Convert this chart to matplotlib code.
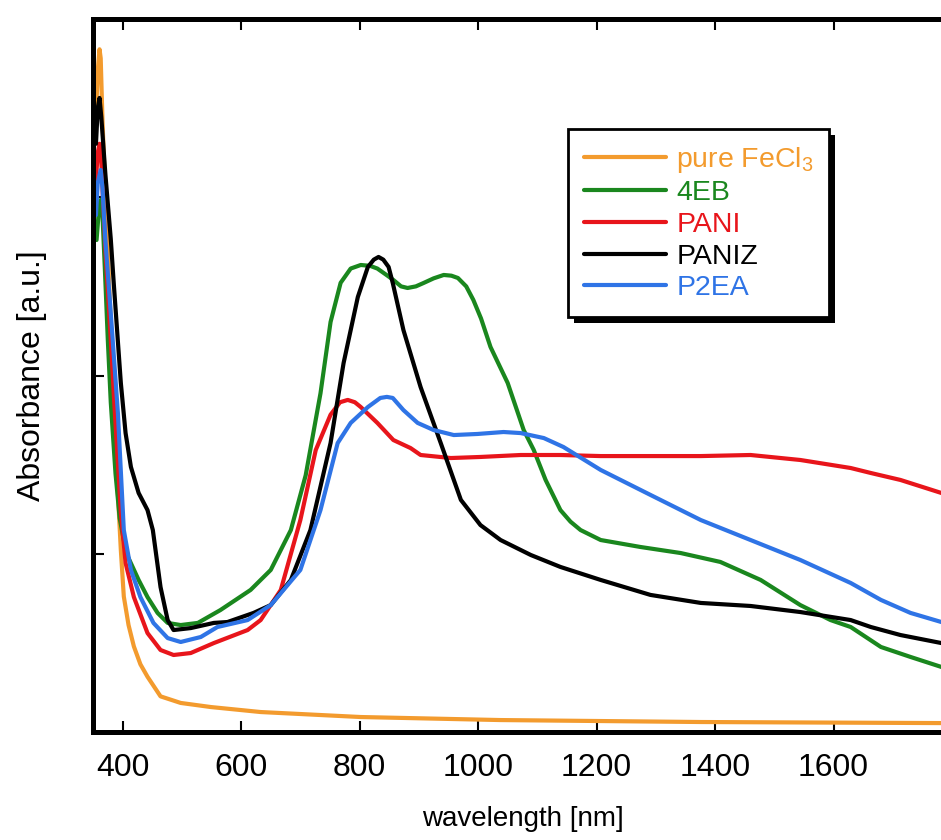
import matplotlib
matplotlib.use('Agg')
import matplotlib.pyplot as plt
from matplotlib.patches import Rectangle

plt.rcParams['font.family'] = ['Liberation Sans', 'DejaVu Sans']
plt.rcParams['mathtext.default'] = 'regular'

# wavelength [nm] / absorbance [a.u.]
wl_fecl3 = [355, 358, 361, 363, 366, 371, 380, 388, 392, 397, 402, 410, 419, 430, 442,
            464, 498, 549, 633, 802, 1038, 1376, 1782, 1800]
ab_fecl3 = [3.45, 3.71, 3.83, 3.78, 3.43, 3.00, 2.30, 1.62, 1.34, 1.02, 0.76, 0.60, 0.48, 0.38, 0.31,
            0.20, 0.163, 0.14, 0.112, 0.084, 0.067, 0.056, 0.05, 0.05]

wl_4eb = [356, 360, 363, 366, 370, 375, 380, 388, 395, 402, 408, 427, 442, 459, 476, 498, 527,
          565, 616, 650, 684, 709, 734, 751, 768, 785, 802, 818, 830, 845, 857, 870, 881, 895,
          908, 925, 942, 955, 966, 980, 992, 1005, 1021, 1050, 1077, 1094, 1114, 1139, 1156,
          1173, 1207, 1274, 1342, 1409, 1477, 1544, 1595, 1629, 1680, 1730, 1782, 1800]
ab_4eb = [2.76, 2.93, 2.985, 2.90, 2.60, 2.20, 1.85, 1.45, 1.20, 1.077, 0.99, 0.853, 0.757, 0.668,
          0.612, 0.600, 0.612, 0.684, 0.797, 0.909, 1.133, 1.44, 1.90, 2.30, 2.52, 2.60, 2.62,
          2.615, 2.60, 2.565, 2.536, 2.50, 2.491, 2.50, 2.519, 2.545, 2.564, 2.560, 2.547,
          2.50, 2.424, 2.32, 2.160, 1.958, 1.694, 1.582, 1.414, 1.245, 1.18, 1.133, 1.077,
          1.038, 1.004, 0.954, 0.853, 0.712, 0.628, 0.589, 0.477, 0.421, 0.365, 0.35]

wl_pani = [355, 358, 361, 364, 371, 380, 385, 397, 405, 419, 442, 464, 486, 515, 554, 611, 633,
           667, 700, 726, 751, 767, 780, 792, 802, 830, 857, 886, 903, 954, 1004, 1072, 1139,
           1207, 1291, 1376, 1460, 1544, 1629, 1663, 1713, 1782, 1800]
ab_pani = [3.10, 3.25, 3.30, 3.20, 2.70, 2.20, 1.90, 1.229, 0.948, 0.757, 0.555, 0.46, 0.432,
           0.443, 0.499, 0.572, 0.628, 0.797, 1.189, 1.582, 1.78, 1.85, 1.863, 1.85, 1.823,
           1.734, 1.638, 1.593, 1.554, 1.537, 1.543, 1.554, 1.554, 1.548, 1.548, 1.548, 1.554,
           1.526, 1.481, 1.453, 1.414, 1.341, 1.32]

wl_paniz = [355, 358, 361, 364, 371, 380, 385, 397, 405, 414, 427, 442, 451, 464, 476, 486, 515,
            554, 577, 621, 650, 684, 717, 751, 773, 797, 814, 824, 832, 840, 849, 856, 874, 903,
            937, 971, 1004, 1038, 1089, 1139, 1207, 1291, 1376, 1460, 1544, 1629, 1663, 1713,
            1782, 1800]
ab_paniz = [3.30, 3.50, 3.557, 3.45, 3.125, 2.766, 2.519, 1.958, 1.677, 1.487, 1.341, 1.245,
            1.133, 0.813, 0.628, 0.572, 0.583, 0.612, 0.617, 0.668, 0.712, 0.853, 1.133, 1.621,
            2.070, 2.440, 2.609, 2.65, 2.665, 2.65, 2.609, 2.519, 2.255, 1.935, 1.621, 1.302,
            1.161, 1.077, 0.993, 0.926, 0.853, 0.769, 0.724, 0.707, 0.673, 0.628, 0.589, 0.544,
            0.499, 0.49]

wl_p2ea = [355, 358, 363, 366, 371, 380, 392, 402, 414, 430, 452, 476, 498, 532, 560, 611, 650,
           700, 734, 763, 785, 814, 835, 846, 856, 874, 898, 925, 959, 999, 1043, 1072, 1111,
           1144, 1207, 1291, 1376, 1460, 1544, 1629, 1680, 1730, 1782, 1800]
ab_p2ea = [2.90, 3.08, 3.153, 3.05, 2.75, 2.35, 1.790, 1.133, 0.909, 0.757, 0.612, 0.527, 0.505,
           0.533, 0.589, 0.628, 0.712, 0.909, 1.245, 1.621, 1.734, 1.823, 1.874, 1.88, 1.874,
           1.806, 1.734, 1.694, 1.666, 1.672, 1.683, 1.677, 1.649, 1.599, 1.470, 1.330, 1.189,
           1.077, 0.965, 0.836, 0.741, 0.668, 0.617, 0.60]

xticks = [400, 600, 800, 1000, 1200, 1400, 1600, 1800]
xlabels = ['400', '600', '800', '1000', '1200', '1400', '1600', '']

W, H = 941, 840
fig = plt.figure(figsize=(W / 100, H / 100), dpi=100)
ax = fig.add_axes([93 / W, 1 - 732 / H, (952 - 93) / W, (732 - 19) / H])

kw = dict(lw=3, solid_joinstyle='round', solid_capstyle='round')
ax.plot(wl_fecl3, ab_fecl3, color='#F39B2E', label='pure FeCl$_3$', **kw)
ax.plot(wl_4eb, ab_4eb, color='#1A871E', label='4EB', **kw)
ax.plot(wl_pani, ab_pani, color='#E8151B', label='PANI', **kw)
ax.plot(wl_paniz, ab_paniz, color='black', label='PANIZ', **kw)
ax.plot(wl_p2ea, ab_p2ea, color='#2F74E6', label='P2EA', **kw)

ax.set_xlim(350, 1800)
ax.set_ylim(0, 4)
ax.set_xticks(xticks)
ax.set_xticklabels(xlabels)
ax.set_yticks([1, 2, 3])
ax.set_yticklabels([])
ax.tick_params(direction='in', length=8, width=1.5, top=True, right=True,
               labelsize=23, pad=15)
for s in ax.spines.values():
    s.set_linewidth(3.6)

ax.set_xlabel('wavelength [nm]', fontsize=20, labelpad=17)
ax.set_ylabel('Absorbance [a.u.]', fontsize=23, labelpad=18)

leg = ax.legend(loc='upper left', bbox_to_anchor=(568 / W, 1 - 129 / H),
                bbox_transform=fig.transFigure, borderaxespad=0, fontsize=20.5,
                handlelength=2.9, handletextpad=0.35, labelspacing=0.2,
                labelcolor='linecolor', fancybox=False, framealpha=1,
                edgecolor='black', borderpad=0.55)
leg.get_frame().set_linewidth(2)
leg.set_zorder(5)

# black drop shadow behind the legend box
fig.canvas.draw()
bb = leg.get_window_extent()
sh = Rectangle((bb.x0 + 6, bb.y0 - 6), bb.width, bb.height, transform=None,
               facecolor='black', edgecolor='none', zorder=4)
ax.add_artist(sh)

fig.savefig('out.png', dpi=100)
